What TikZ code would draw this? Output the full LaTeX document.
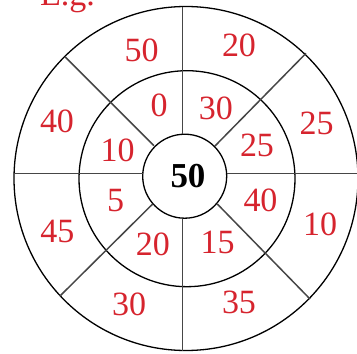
\documentclass[tikz,border=0pt]{standalone}
\usepackage{fontspec}
\setmainfont{Liberation Serif}
\definecolor{numred}{RGB}{214,36,46}
\definecolor{spoke}{RGB}{70,70,70}
\begin{document}
\begin{tikzpicture}[x=1pt,y=-1pt,
  ring/.style={draw=black,line width=1.3pt},
  spokeline/.style={draw=spoke,line width=1.5pt},
  num/.style={text=numred,inner sep=0pt,font=\fontsize{34}{40}\selectfont},
  mid/.style={text=black,inner sep=0pt,font=\fontsize{35}{40}\selectfont\bfseries}]
\useasboundingbox (0,0) rectangle (357,354);
% circles
\draw[ring] (186,178.5) circle (172);
\draw[ring] (187,178.7) circle (108);
\draw[ring] (184.7,176.2) circle (42);
% spoke end points
\coordinate (ui) at (182.5,134);   \coordinate (uo) at (182.5,6.5);
\coordinate (di) at (182.5,218.5); \coordinate (do) at (182.5,351);
\coordinate (li) at (142.7,173.5); \coordinate (lo) at (14,173.5);
\coordinate (ri) at (226.7,173.5); \coordinate (ro) at (362,173.5);
\coordinate (uli) at (154,145.7);  \coordinate (ulo) at (65,56.7);
\coordinate (uri) at (215,146);    \coordinate (uro) at (306,53.3);
\coordinate (lli) at (152.7,204);  \coordinate (llo) at (60,296);
\coordinate (lri) at (217.3,204);  \coordinate (lro) at (310,299);
\draw[spokeline] (ui) -- (uo);
\draw[spokeline] (di) -- (do);
\draw[spokeline] (li) -- (lo);
\draw[spokeline] (ri) -- (ro);
\draw[spokeline] (uli) -- (ulo);
\draw[spokeline] (uri) -- (uro);
\draw[spokeline] (lli) -- (llo);
\draw[spokeline] (lri) -- (lro);
% title
\node[num,anchor=base west] (eg) at (40,5) {E.g.};
% outer ring
\node[num] (o1) at (141.7,50) {50};
\node[num] (o2) at (239,45) {20};
\node[num] (o3) at (57,121.7) {40};
\node[num] (o4) at (316.7,123.3) {25};
\node[num] (o5) at (57.5,231.7) {45};
\node[num] (o6) at (320,224) {10};
\node[num] (o7) at (129,304) {30};
\node[num] (o8) at (239,302.5) {35};
% middle ring
\node[num] (m1) at (159,105) {0};
\node[num] (m2) at (215.8,108.3) {30};
\node[num] (m3) at (117.5,150) {10};
\node[num] (m4) at (257,145) {25};
\node[num] (m5) at (115.7,200.8) {5};
\node[num] (m6) at (260.5,200) {40};
\node[num] (m7) at (152.8,244) {20};
\node[num] (m8) at (217.5,242.5) {15};
% centre
\node[mid] (c) at (188,175.8) {50};
\end{tikzpicture}
\end{document}
